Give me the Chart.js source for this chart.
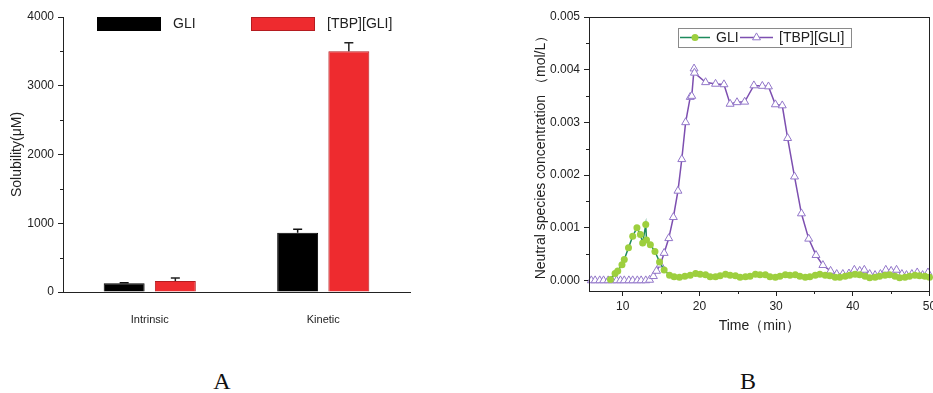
<!DOCTYPE html>
<html>
<head>
<meta charset="utf-8">
<script src="https://cdn.jsdelivr.net/npm/chart.js@4.4.1/dist/chart.umd.min.js"></script>
<style>
  html, body { margin: 0; padding: 0; background: #fff; width: 933px; height: 393px; overflow: hidden; position: relative; }
  .panel { position: absolute; top: 0; height: 340px; }
  #wrapA { left: 0; width: 460px; }
  #wrapB { left: 460px; width: 490px; }
  .tag { position: absolute; width: 80px; text-align: center; line-height: 24px;
         font-family: "Liberation Serif", "DejaVu Serif", serif; font-size: 24px; color: #111; }
</style>
</head>
<body>
<div class="panel" id="wrapA"><canvas id="chartA"></canvas></div>
<div class="panel" id="wrapB"><canvas id="chartB"></canvas></div>
<div class="tag" style="left:182px; top:369px;">A</div>
<div class="tag" style="left:708px; top:369px;">B</div>

<script>
// ---- Panel A: solubility ----
const solubilityCategories = ['Intrinsic', 'Kinetic'];
const gliSolubility = [126, 862];
const gliSolubilityErr = [10, 50];
const saltSolubility = [160, 3503];
const saltSolubilityErr = [43, 121];

// ---- Panel B: neutral species concentration vs time ----
const gliTime = [8.4, 9.0, 9.35, 9.9, 10.2, 10.75, 11.3, 11.85, 12.3, 12.6, 13.0, 13.1, 13.6, 14.2, 14.8, 15.4,
  16.1, 16.7, 17.4, 18.1, 18.8, 19.5, 20.1, 20.8, 21.4, 22.1, 22.7, 23.4, 24.0, 24.7, 25.3, 26.0, 26.6,
  27.3, 27.9, 28.6, 29.2, 29.9, 30.5, 31.2, 31.8, 32.5, 33.1, 33.8, 34.4, 35.1, 35.7, 36.4, 37.0, 37.7,
  38.3, 39.0, 39.6, 40.3, 40.9, 41.6, 42.2, 42.9, 43.5, 44.2, 44.8, 45.5, 46.1, 46.8, 47.4, 48.1, 48.7,
  49.4, 50.0];
const gliConc = [0.00002, 0.00013, 0.00018, 0.0003, 0.0004, 0.00062, 0.00084, 0.001, 0.00087, 0.00071,
  0.00106, 0.00077, 0.00068, 0.00055, 0.00035, 0.0002, 0.0001, 0.00007, 0.00006, 0.00008, 0.0001,
  0.00013, 0.00012, 0.00011, 0.00007, 0.00007, 0.00009, 0.00012, 0.0001, 0.00009, 0.00006, 0.00007,
  0.00008, 0.00012, 0.00011, 0.00011, 0.00007, 0.00006, 0.00008, 0.00011, 0.0001, 0.00011, 0.00008,
  0.00006, 0.00007, 0.0001, 0.00012, 0.0001, 0.00009, 0.00006, 0.00006, 0.00008, 0.0001, 0.00012,
  0.00011, 0.00008, 0.00005, 0.00006, 0.00008, 0.0001, 0.00011, 0.00008, 0.00005, 0.00006, 0.00008,
  0.0001, 0.00009, 0.00008, 0.00006];

const saltTime = [5.9, 6.4, 7.0, 7.5, 8.1, 8.6, 9.2, 9.7, 10.2, 10.8, 11.3, 11.9, 12.4, 13.0,
  13.5, 14.0, 14.4, 14.9, 15.4, 16.0, 16.6, 17.2, 17.7, 18.2, 18.8, 19.0, 19.3, 19.35,
  20.8, 22.1, 23.2, 24.0, 24.9, 25.9, 27.1, 28.2, 29.0, 29.9, 30.8, 31.5, 32.4, 33.3, 34.25, 35.2,
  36.1, 37.1, 37.9, 38.7, 39.5,
  40.2, 40.9, 41.5, 42.2, 42.9, 43.6, 44.3, 45.0, 45.7, 46.4, 47.0, 47.7, 48.4, 49.1, 49.8];
const saltConc = [0, 0, 0, 0, 0, 0, 0, 0, 0, 0, 0, 0, 0, 0,
  0.00001, 0.00008, 0.00018, 0.0003, 0.00052, 0.0008, 0.0012, 0.0017, 0.0023, 0.003, 0.00348, 0.0035, 0.00402, 0.00394,
  0.00376, 0.00373, 0.00372, 0.00335, 0.00338, 0.00339, 0.0037, 0.00369, 0.00368, 0.00334, 0.00332, 0.0027,
  0.00197, 0.00127, 0.00079, 0.00048, 0.00029, 0.00018, 0.00012, 0.00012, 0.00013,
  0.0002, 0.00018, 0.0002, 0.00012, 0.0001, 0.00012, 0.0002, 0.00018, 0.0002, 0.00012, 0.0001, 0.00012,
  0.00015, 0.0001, 0.00015];

const timeTicks = [10, 20, 30, 40, 50];

const AXIS = '#222';
const FONT = '"Liberation Sans", Arial, sans-serif';

// short unlabeled ticks half-way between the labeled ones
const minorTicks = {
  id: 'minorTicks',
  afterDraw(chart, args, opts) {
    const ctx = chart.ctx;
    ctx.save();
    ctx.strokeStyle = AXIS;
    ctx.lineWidth = 1;
    ctx.beginPath();
    (opts.axes || []).forEach(id => {
      const s = chart.scales[id];
      const vals = s.ticks.map(t => t.value);
      for (let i = 0; i < vals.length - 1; i++) {
        const p = Math.round(s.getPixelForValue((vals[i] + vals[i + 1]) / 2)) + 0.5;
        if (s.isHorizontal()) {
          const y = Math.round(s.top);
          ctx.moveTo(p, y); ctx.lineTo(p, y + 3);
        } else {
          const x = Math.round(s.right);
          ctx.moveTo(x, p); ctx.lineTo(x - 3, p);
        }
      }
    });
    ctx.stroke();
    ctx.restore();
  }
};

// upward error bars with caps on each bar
const errorBars = {
  id: 'errorBars',
  afterDatasetsDraw(chart) {
    const ctx = chart.ctx;
    const y = chart.scales.y;
    ctx.save();
    ctx.lineWidth = 1.5;
    chart.data.datasets.forEach((ds, di) => {
      const meta = chart.getDatasetMeta(di);
      meta.data.forEach((bar, i) => {
        const top = y.getPixelForValue(ds.data[i] + ds.errorBars[i]);
        const base = y.getPixelForValue(ds.data[i]);
        ctx.strokeStyle = ds.errorColor;
        ctx.beginPath();
        ctx.moveTo(bar.x, base);
        ctx.lineTo(bar.x, top);
        ctx.moveTo(bar.x - 4.5, top);
        ctx.lineTo(bar.x + 4.5, top);
        ctx.stroke();
      });
    });
    ctx.restore();
  }
};

// bar legend laid inside the top of the plot
const barLegend = {
  id: 'barLegend',
  afterDraw(chart, args, opts) {
    const ctx = chart.ctx;
    const ca = chart.chartArea;
    ctx.save();
    ctx.font = '14px ' + FONT;
    ctx.textBaseline = 'middle';
    chart.data.datasets.forEach((ds, i) => {
      const x = ca.left + opts.offsets[i];
      const yTop = ca.top;
      ctx.fillStyle = ds.backgroundColor;
      ctx.fillRect(x, yTop, 64, 14);
      ctx.strokeStyle = ds.borderColor;
      ctx.lineWidth = 1;
      ctx.strokeRect(x + 0.5, yTop + 0.5, 63, 13);
      ctx.fillStyle = '#222';
      ctx.fillText(ds.label, x + 76, yTop + 7.5);
    });
    ctx.restore();
  }
};

// boxed line legend with markers
const lineLegend = {
  id: 'lineLegend',
  afterDraw(chart, args, opts) {
    const ctx = chart.ctx;
    const ca = chart.chartArea;
    const bx = ca.left + 89, by = ca.top + 10.5;
    ctx.save();
    ctx.strokeStyle = '#8a8a8a';
    ctx.lineWidth = 1;
    ctx.strokeRect(Math.round(bx) + 0.5, Math.round(by) + 0.5, 173, 19);
    ctx.font = '14px ' + FONT;
    ctx.textBaseline = 'middle';
    const cy = by + 10;
    const items = [{ x0: bx + 2, x1: bx + 32, tx: bx + 38 }, { x0: bx + 62, x1: bx + 95, tx: bx + 101 }];
    chart.data.datasets.forEach((ds, i) => {
      const it = items[i];
      ctx.strokeStyle = ds.borderColor;
      ctx.lineWidth = ds.borderWidth;
      ctx.beginPath();
      ctx.moveTo(it.x0, cy); ctx.lineTo(it.x1, cy);
      ctx.stroke();
      const mx = (it.x0 + it.x1) / 2;
      ctx.fillStyle = ds.pointBackgroundColor;
      ctx.strokeStyle = ds.pointBorderColor;
      ctx.lineWidth = ds.pointBorderWidth;
      Chart.helpers.drawPoint(ctx, { pointStyle: ds.pointStyle, radius: ds.pointRadius, borderWidth: ds.pointBorderWidth, rotation: 0 }, mx, cy);
      ctx.fillStyle = '#222';
      ctx.fillText(ds.label, it.tx, cy + 0.5);
    });
    ctx.restore();
  }
};

// full frame round the plot
const frame = {
  id: 'frame',
  afterDraw(chart) {
    const { ctx, chartArea: ca } = chart;
    ctx.save();
    ctx.strokeStyle = AXIS;
    ctx.lineWidth = 1;
    ctx.strokeRect(Math.round(ca.left) + 0.5, Math.round(ca.top) + 0.5,
      Math.round(ca.right - ca.left) - 1, Math.round(ca.bottom - ca.top));
    ctx.restore();
  }
};

new Chart(document.getElementById('chartA'), {
  type: 'bar',
  data: {
    labels: solubilityCategories,
    datasets: [
      { label: 'GLI', data: gliSolubility, errorBars: gliSolubilityErr, errorColor: '#111',
        backgroundColor: '#000000', borderColor: '#000000', borderWidth: 1,
        barPercentage: 0.8, categoryPercentage: 0.59 },
      { label: '[TBP][GLI]', data: saltSolubility, errorBars: saltSolubilityErr, errorColor: '#222',
        backgroundColor: '#ee2b2f', borderColor: '#b51c20', borderWidth: 1,
        barPercentage: 0.8, categoryPercentage: 0.59 }
    ]
  },
  options: {
    responsive: true, maintainAspectRatio: false, animation: false,
    layout: { padding: { left: 0, top: 17, right: 50, bottom: 0 } },
    plugins: {
      legend: { display: false }, tooltip: { enabled: false },
      barLegend: { offsets: [34, 188] },
      minorTicks: { axes: ['y'] }
    },
    scales: {
      x: {
        grid: { display: false, drawTicks: false },
        border: { display: true, color: AXIS, width: 1 },
        ticks: { color: '#222', font: { family: FONT, size: 11 }, padding: 21 },
        afterFit: s => { s.height = 48; }
      },
      y: {
        min: 0, max: 4000,
        ticks: { stepSize: 1000, color: '#222', font: { family: FONT, size: 12 }, padding: 4,
                 callback: v => String(v) },
        grid: { display: true, drawOnChartArea: false, drawTicks: true, tickLength: 5, color: AXIS, tickColor: AXIS },
        border: { display: true, color: AXIS, width: 1 },
        title: { display: true, text: 'Solubility(μM)', color: '#222', font: { family: FONT, size: 14 }, padding: { top: 9, bottom: 0 } },
        afterFit: s => { s.width = 63; }
      }
    }
  },
  plugins: [minorTicks, errorBars, barLegend]
});

new Chart(document.getElementById('chartB'), {
  type: 'line',
  data: {
    datasets: [
      { label: 'GLI', data: gliTime.map((t, i) => ({ x: t, y: gliConc[i] })),
        borderColor: '#1d8a5c', borderWidth: 1.5,
        pointStyle: 'circle', pointRadius: 3.5, pointBorderWidth: 0,
        pointBackgroundColor: '#9dcf3e', pointBorderColor: '#9dcf3e',
        tension: 0, clip: false },
      { label: '[TBP][GLI]', data: saltTime.map((t, i) => ({ x: t, y: saltConc[i] })),
        borderColor: '#7d4fb0', borderWidth: 1.5,
        pointStyle: 'triangle', pointRadius: 4.6, pointBorderWidth: 1,
        pointBackgroundColor: '#ffffff', pointBorderColor: '#9276c9',
        tension: 0, clip: false }
    ]
  },
  options: {
    responsive: true, maintainAspectRatio: false, animation: false,
    layout: { padding: { left: 0, top: 17, right: 20.5, bottom: 0 } },
    plugins: {
      legend: { display: false }, tooltip: { enabled: false },
      minorTicks: { axes: ['x', 'y'] }
    },
    scales: {
      x: {
        type: 'linear', min: 5.6, max: 50,
        afterBuildTicks: s => { s.ticks = timeTicks.map(v => ({ value: v })); },
        ticks: { color: '#222', font: { family: FONT, size: 12 }, padding: 3, includeBounds: false },
        grid: { display: true, drawOnChartArea: false, drawTicks: true, tickLength: 5, color: AXIS, tickColor: AXIS },
        border: { display: true, color: AXIS, width: 1 },
        title: { display: true, text: 'Time（min）', color: '#222', font: { family: FONT, size: 14 }, padding: { top: 0, bottom: 5 } },
        afterFit: s => { s.height = 49; }
      },
      y: {
        min: -0.0002, max: 0.005,
        ticks: { stepSize: 0.001, includeBounds: false, color: '#222', font: { family: FONT, size: 12 }, padding: 4,
                 callback: v => v.toFixed(3) },
        grid: { display: true, drawOnChartArea: false, drawTicks: true, tickLength: 5, color: AXIS, tickColor: AXIS },
        border: { display: true, color: AXIS, width: 1 },
        title: { display: true, text: 'Neutral species concentration （mol/L）', color: '#222',
                 font: { family: FONT, size: 14 }, padding: { top: 72.6, bottom: 0 } },
        afterFit: s => { s.width = 129; }
      }
    }
  },
  plugins: [minorTicks, lineLegend, frame]
});
</script>
</body>
</html>
